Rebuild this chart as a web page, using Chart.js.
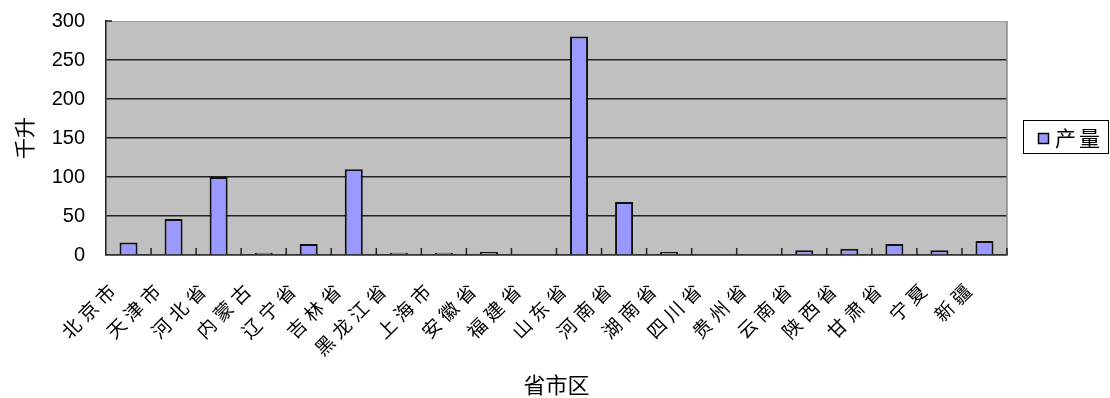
<!DOCTYPE html>
<html>
<head>
<meta charset="utf-8">
<script src="https://cdn.jsdelivr.net/npm/chart.js@4/dist/chart.umd.min.js"></script>
<style>
  html, body { margin: 0; padding: 0; background: #ffffff; }
  #wrap { width: 1110px; height: 398px; position: relative; }
</style>
</head>
<body>
<div id="wrap"><canvas id="c"></canvas></div>
<script>
const categories = ['北京市','天津市','河北省','内蒙古','辽宁省','吉林省','黑龙江省','上海市','安徽省','福建省','山东省','河南省','湖南省','四川省','贵州省','云南省','陕西省','甘肃省','宁夏','新疆'];
const seriesName = '产量';
const seriesValues = [16, 46, 100, 3, 14, 110, 3, 3, 4, 0, 280, 68, 4, 0, 0, 6, 8, 14, 6, 18];
const yTicks = [0, 50, 100, 150, 200, 250, 300];
const yTitle = '千升';
const xTitle = '省市区';

const FONT = '"Liberation Sans", "Noto Sans CJK SC", sans-serif';
const CJK = '"Noto Sans CJK SC", "Liberation Sans", sans-serif';
const LABEL_SPACING = '5px';

const decorPlugin = {
  id: 'decor',
  afterLayout(chart) {
    const s = chart.scales.x;
    if (s && !s._wrappedLabels) {
      const orig = s.drawLabels;
      s.drawLabels = function (area) {
        const c = this.ctx;
        const prev = c.letterSpacing;
        c.letterSpacing = LABEL_SPACING;
        orig.call(this, area);
        c.letterSpacing = prev || '0px';
      };
      s._wrappedLabels = true;
    }
  },
  beforeDraw(chart) {
    const { ctx, chartArea: a } = chart;
    ctx.save();
    ctx.fillStyle = '#C0C0C0';
    ctx.fillRect(a.left, a.top, a.right - a.left, a.bottom - a.top);
    ctx.restore();
  },
  afterDatasetsDraw(chart) {
    const { ctx, chartArea: a, scales } = chart;
    const x = scales.x;
    ctx.save();
    ctx.strokeStyle = '#8a8a8a';
    ctx.lineWidth = 1.5;
    ctx.beginPath();
    ctx.moveTo(a.right, a.top);
    ctx.lineTo(a.right, a.bottom);
    ctx.stroke();
    ctx.strokeStyle = '#222';
    ctx.beginPath();
    ctx.moveTo(a.left, a.top);
    ctx.lineTo(a.left + 6, a.top);
    ctx.stroke();
    const half = (x.getPixelForTick(1) - x.getPixelForTick(0)) / 2;
    ctx.strokeStyle = '#222';
    ctx.lineWidth = 1.5;
    for (let i = 0; i < categories.length; i++) {
      const px = x.getPixelForTick(i) + half;
      ctx.beginPath();
      ctx.moveTo(px, a.bottom);
      ctx.lineTo(px, a.bottom - 7);
      ctx.stroke();
    }
    ctx.restore();
  },
  afterDraw(chart) {
    const { ctx } = chart;
    const ds = chart.data.datasets[0];
    ctx.save();
    ctx.strokeStyle = '#000';
    ctx.lineWidth = 1;
    ctx.strokeRect(1023.5, 120.5, 85, 33);
    ctx.fillStyle = ds.backgroundColor;
    ctx.fillRect(1038, 133, 11, 11);
    ctx.lineWidth = 1.5;
    ctx.strokeRect(1038.5, 133.5, 10, 10);
    ctx.fillStyle = '#000';
    ctx.font = '21px ' + CJK;
    ctx.letterSpacing = '3px';
    ctx.textBaseline = 'middle';
    ctx.textAlign = 'left';
    ctx.fillText(ds.label, 1055, 138);
    ctx.restore();
  }
};

new Chart(document.getElementById('c'), {
  type: 'bar',
  data: {
    labels: categories,
    datasets: [{
      label: seriesName,
      data: seriesValues,
      backgroundColor: '#9999FF',
      borderColor: '#111111',
      borderWidth: 2,
      categoryPercentage: 1.0,
      barPercentage: 0.4
    }]
  },
  options: {
    responsive: true,
    maintainAspectRatio: false,
    animation: false,
    layout: { padding: { left: 0, right: 103, top: 21, bottom: 0 } },
    plugins: {
      legend: { display: false },
      tooltip: { enabled: false }
    },
    scales: {
      x: {
        type: 'category',
        offset: true,
        grid: { display: false, drawTicks: false },
        border: { display: true, color: '#333333', width: 1.5 },
        ticks: {
          autoSkip: false,
          maxRotation: 45,
          minRotation: 45,
          padding: 21,
          labelOffset: -13,
          color: '#000',
          font: { family: CJK, size: 19 }
        },
        title: {
          display: true,
          text: xTitle,
          color: '#000',
          font: { family: CJK, size: 22 },
          padding: { top: 0, bottom: 0 }
        },
        afterFit(scale) { scale.height = 398 - 255; }
      },
      y: {
        min: 0,
        max: 300,
        afterBuildTicks(scale) { scale.ticks = yTicks.map(v => ({ value: v })); },
        grid: {
          drawTicks: true,
          tickLength: 21,
          tickColor: 'rgba(0,0,0,0)',
          color: (ctx) => (ctx.tick && ctx.tick.value === 300) ? '#9a9a9a' : '#222222',
          lineWidth: (ctx) => (ctx.tick && ctx.tick.value === 300) ? 1 : 1.5
        },
        border: { display: true, color: '#222222', width: 1.5 },
        ticks: {
          padding: 0,
          color: '#000',
          font: { family: FONT, size: 20 }
        },
        title: {
          display: true,
          text: yTitle,
          color: '#000',
          font: { family: CJK, size: 21 },
          padding: { top: 11, bottom: 0 }
        },
        afterFit(scale) { scale.width = 106; }
      }
    }
  },
  plugins: [decorPlugin]
});
</script>
</body>
</html>
